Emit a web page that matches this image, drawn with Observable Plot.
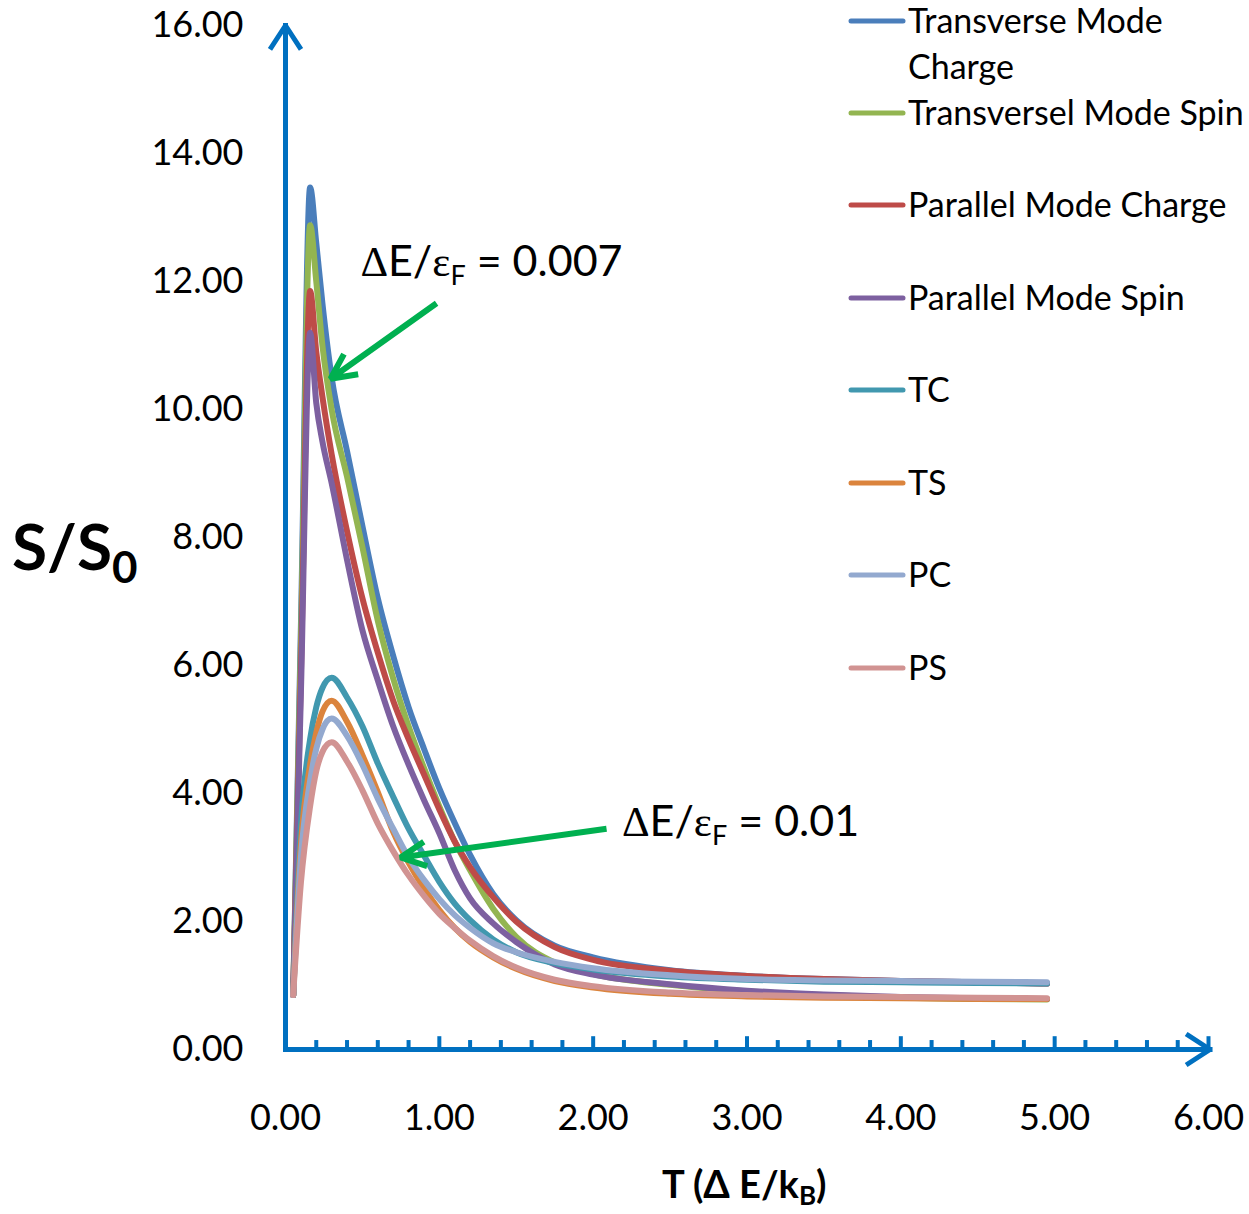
<!DOCTYPE html>
<html><head><meta charset="utf-8">
<script src="https://cdn.jsdelivr.net/npm/d3@7"></script>
<script src="https://cdn.jsdelivr.net/npm/@observablehq/plot@0.6"></script>
<style>html,body{margin:0;padding:0;background:#fff;overflow:hidden}</style>
</head><body><div id="chart"></div>
<script>
// ---- data ----
const T = [0.05, 0.1, 0.16, 0.2, 0.24, 0.3, 0.4, 0.5, 0.6, 0.7, 0.8, 0.9, 1.0, 1.1, 1.2, 1.35, 1.5, 1.75, 2.0, 2.5, 3.0, 3.5, 4.0, 4.5, 4.95];
const transverseModeCharge = [0.85, 6.6, 13.47, 12.6, 11.66, 10.5, 9.35, 8.18, 7.05, 6.15, 5.35, 4.7, 4.08, 3.54, 3.04, 2.43, 2.02, 1.62, 1.44, 1.24, 1.15, 1.10, 1.07, 1.05, 1.03];
const transverselModeSpin  = [0.85, 6.32, 12.88, 12.0, 11.0, 10.0, 8.95, 7.85, 6.7, 5.8, 5.05, 4.4, 3.8, 3.25, 2.8, 2.2, 1.76, 1.36, 1.18, 1.01, 0.91, 0.85, 0.81, 0.79, 0.78];
const parallelModeCharge   = [0.85, 5.85, 11.85, 10.9, 10.2, 9.3, 8.1, 7.05, 6.2, 5.45, 4.85, 4.3, 3.75, 3.25, 2.85, 2.38, 2.0, 1.6, 1.4, 1.23, 1.15, 1.10, 1.07, 1.05, 1.03];
const parallelModeSpin     = [0.85, 5.55, 11.2, 10.1, 9.5, 8.85, 7.65, 6.55, 5.77, 5.05, 4.45, 3.9, 3.38, 2.8, 2.36, 1.97, 1.68, 1.33, 1.17, 1.02, 0.92, 0.86, 0.82, 0.80, 0.79];
const TC = [0.85, 3.5, 4.85, 5.35, 5.65, 5.81, 5.5, 5.05, 4.47, 3.95, 3.45, 3.03, 2.62, 2.28, 2.02, 1.72, 1.52, 1.35, 1.25, 1.14, 1.09, 1.06, 1.05, 1.04, 1.03];
const TS = [0.85, 3.2, 4.45, 4.95, 5.28, 5.45, 5.12, 4.6, 4.02, 3.4, 2.92, 2.52, 2.18, 1.9, 1.68, 1.44, 1.26, 1.07, 0.97, 0.87, 0.83, 0.81, 0.80, 0.79, 0.79];
const PC = [0.85, 3.0, 4.2, 4.7, 5.0, 5.17, 4.9, 4.45, 3.92, 3.45, 3.0, 2.65, 2.35, 2.1, 1.9, 1.66, 1.52, 1.37, 1.27, 1.16, 1.10, 1.08, 1.07, 1.06, 1.05];
const PS = [0.85, 2.6, 3.8, 4.35, 4.65, 4.80, 4.5, 4.05, 3.53, 3.1, 2.72, 2.4, 2.12, 1.9, 1.7, 1.46, 1.28, 1.09, 0.99, 0.89, 0.85, 0.83, 0.82, 0.81, 0.80];

const seriesNames = ["Transverse Mode Charge", "Transversel Mode Spin", "Parallel Mode Charge", "Parallel Mode Spin", "TC", "TS", "PC", "PS"];
const seriesValues = [transverseModeCharge, transverselModeSpin, parallelModeCharge, parallelModeSpin, TC, TS, PC, PS];
const seriesColors = ["#4A7EBB", "#93B551", "#BE4B48", "#7D60A0", "#4198AF", "#DB843D", "#93A9CF", "#D19392"];

const xTicks = [0, 1, 2, 3, 4, 5, 6];
const yTicks = [0, 2, 4, 6, 8, 10, 12, 14, 16];
const xSmallTicks = [0.2, 0.4, 0.6, 0.8, 1.0, 1.2, 1.4, 1.6, 1.8, 2.0, 2.2, 2.4, 2.6, 2.8, 3.0, 3.2, 3.4, 3.6, 3.8, 4.0, 4.2, 4.4, 4.6, 4.8, 5.0, 5.2, 5.4, 5.6, 5.8, 6.0];

const annotationLabels = ["0.007", "0.01"];
const annotationTextX = [0.49, 2.19];
const annotationTextY = [12.08, 3.33];
const arrowFromX = [0.982, 2.087];
const arrowFromY = [11.66, 3.45];
const arrowToX = [0.293, 0.748];
const arrowToY = [10.48, 3.0];

// ---- build tables ----
const rows = seriesNames.flatMap((name, k) => T.map((t, i) => ({series: name, t, s: seriesValues[k][i]})));
const axisLines = [{x1: 0, y1: 0, x2: 0, y2: 16}, {x1: 0, y1: 0, x2: 6.01, y2: 0}];
const pointers = annotationLabels.map((l, i) => ({x1: arrowFromX[i], y1: arrowFromY[i], x2: arrowToX[i], y2: arrowToY[i]}));
const smallTicks = xSmallTicks.map(v => ({x: v, major: Math.abs(v - Math.round(v)) < 1e-9}));

const axisBlue = "#0070C0";
const W = 1249, H = 1214;

const plot = Plot.plot({
  width: W, height: H,
  marginLeft: 285, marginRight: 41, marginTop: 25, marginBottom: 165,
  x: {domain: [0, 6]},
  y: {domain: [0, 16]},
  color: {domain: seriesNames, range: seriesColors},
  style: {fontFamily: "Lato, sans-serif", background: "white", overflow: "visible", color: "#000"},
  marks: [
    Plot.axisY(yTicks, {tickSize: 0, tickPadding: 42, tickFormat: d => d.toFixed(2), fontSize: 36, fill: "#000", label: null}),
    Plot.axisX(xTicks, {tickSize: 0, tickPadding: 55, tickFormat: d => d.toFixed(2), fontSize: 36, fill: "#000", label: null}),
    Plot.line(rows, {x: "t", y: "s", z: "series", stroke: "series", strokeWidth: 6, curve: "monotone-x", strokeLinecap: "round", strokeLinejoin: "round"}),
    Plot.ruleX(smallTicks, {x: "x", y1: 0, y2: d => d.major ? 0.2 : 0.14, stroke: axisBlue, strokeWidth: 4}),
    Plot.arrow(axisLines, {x1: "x1", y1: "y1", x2: "x2", y2: "y2", stroke: axisBlue, strokeWidth: 5, headLength: 7.8, headAngle: 66, strokeLinecap: "square", strokeLinejoin: "miter"}),
    Plot.arrow(pointers, {x1: "x1", y1: "y1", x2: "x2", y2: "y2", stroke: "#00B050", strokeWidth: 6, headLength: 7, headAngle: 52, strokeLinecap: "butt", strokeLinejoin: "miter"})
  ]
});
document.getElementById("chart").appendChild(plot);

const xs = plot.scale("x"), ys = plot.scale("y");
const sx = d3.scaleLinear(xs.domain, xs.range);
const sy = d3.scaleLinear(ys.domain, ys.range);
const svg = d3.select(plot);

// annotations  ΔE/εF = value
annotationLabels.forEach((lab, i) => {
  const t = svg.append("text")
    .attr("x", sx(annotationTextX[i])).attr("y", sy(annotationTextY[i])).attr("text-anchor", "start")
    .attr("font-size", 43).attr("font-family", "Lato, sans-serif").attr("fill", "#000");
  t.append("tspan").attr("font-family", "Liberation Serif, serif").text("Δ");
  t.append("tspan").text("E/");
  t.append("tspan").attr("font-family", "Liberation Serif, serif").text("ε");
  t.append("tspan").attr("font-size", 27).attr("dy", 9).text("F");
  t.append("tspan").attr("dy", -9).text(" = " + lab);
});

// y-axis title S/S0
const yt = svg.append("text").attr("x", 12).attr("y", 570).attr("text-anchor", "start")
  .attr("font-size", 64).attr("font-weight", 700).attr("font-family", "Lato, sans-serif").attr("fill", "#000");
yt.append("tspan").text("S/S");
yt.append("tspan").attr("font-size", 44).attr("dy", 13).text("0");

// x-axis title
const xt = svg.append("text").attr("x", 662).attr("y", 1198).attr("text-anchor", "start")
  .attr("font-size", 38).attr("font-weight", 700).attr("font-family", "Lato, sans-serif").attr("fill", "#000");
xt.append("tspan").text("T (Δ E/k");
xt.append("tspan").attr("font-size", 26).attr("dy", 7).text("B");
xt.append("tspan").attr("dy", -7).text(")");

// legend
const legendY = [21, 113, 205, 298, 390, 483, 575, 668];
const lg = svg.append("g").attr("font-family", "Lato, sans-serif").attr("font-size", 34).attr("fill", "#000").attr("text-anchor", "start");
seriesNames.forEach((name, i) => {
  lg.append("line").attr("x1", 851).attr("x2", 903).attr("y1", legendY[i]).attr("y2", legendY[i])
    .attr("stroke", seriesColors[i]).attr("stroke-width", 5).attr("stroke-linecap", "round");
  const lines = i === 0 ? ["Transverse Mode", "Charge"] : [name];
  lines.forEach((ln, j) => {
    lg.append("text").attr("x", 908).attr("y", legendY[i] + 12 + j * 46).text(ln);
  });
});
</script>
</body></html>
